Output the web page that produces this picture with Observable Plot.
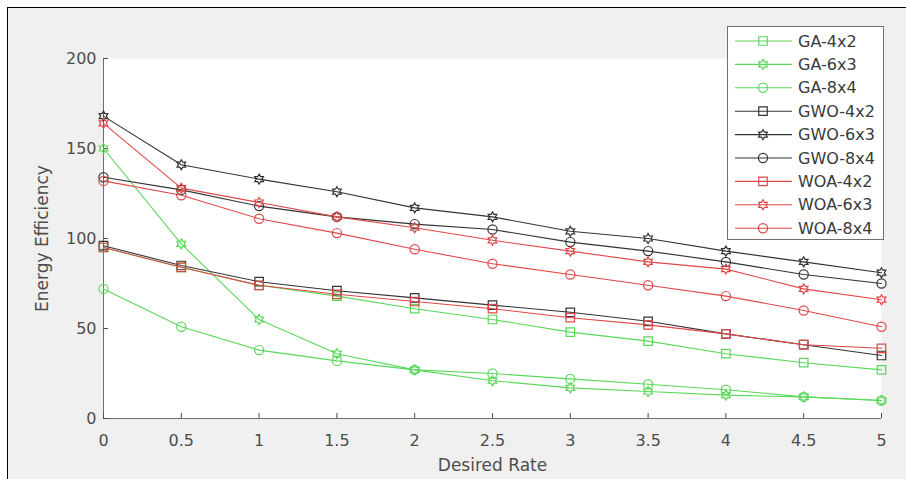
<!DOCTYPE html>
<html><head><meta charset="utf-8">
<script src="https://cdn.jsdelivr.net/npm/d3@7"></script>
<script src="https://cdn.jsdelivr.net/npm/@observablehq/plot@0.6"></script>
<style>
html,body{margin:0;padding:0;background:#fff;}
#fig{position:relative;width:906px;height:479px;overflow:hidden;background:#fff;}
#bg{position:absolute;left:7px;top:7px;right:0;bottom:0;background:#f0f0f0;border-left:1px solid #000;border-top:1px solid #000;}
#chart{position:absolute;left:0;top:0;}
</style></head><body>
<div id="fig"><div id="bg"></div><div id="chart"></div></div>
<script>
// ---- data ----
const rates = [0, 0.5, 1, 1.5, 2, 2.5, 3, 3.5, 4, 4.5, 5];
const ga4x2  = [95, 84, 74, 68, 61, 55, 48, 43, 36, 31, 27];
const ga6x3  = [150, 97, 55, 36, 27, 21, 17, 15, 13, 12, 10];
const ga8x4  = [72, 51, 38, 32, 27, 25, 22, 19, 16, 12, 10];
const gwo4x2 = [96, 85, 76, 71, 67, 63, 59, 54, 47, 41, 35];
const gwo6x3 = [168, 141, 133, 126, 117, 112, 104, 100, 93, 87, 81];
const gwo8x4 = [134, 127, 118, 112, 108, 105, 98, 93, 87, 80, 75];
const woa4x2 = [95, 84, 74, 69, 65, 61, 56, 52, 47, 41, 39];
const woa6x3 = [164, 128, 120, 112, 106, 99, 93, 87, 83, 72, 66];
const woa8x4 = [132, 124, 111, 103, 94, 86, 80, 74, 68, 60, 51];
const seriesNames = ["GA-4x2","GA-6x3","GA-8x4","GWO-4x2","GWO-6x3","GWO-8x4","WOA-4x2","WOA-6x3","WOA-8x4"];
const xTicks = [0, 0.5, 1, 1.5, 2, 2.5, 3, 3.5, 4, 4.5, 5];
const yTicks = [0, 50, 100, 150, 200];
const xLabel = "Desired Rate";
const yLabel = "Energy Efficiency";

// ---- styles ----
const GREEN = "#5ad85a", BLACK = "#333333", RED = "#e04848";
const hexagram = {
  draw(ctx, size) {
    const R = Math.sqrt(size / Math.PI), r = R / Math.sqrt(3);
    for (let i = 0; i < 12; i++) {
      const a = -Math.PI / 2 + i * Math.PI / 6;
      const rr = i % 2 ? r : R;
      const px = rr * Math.cos(a), py = rr * Math.sin(a);
      if (i === 0) ctx.moveTo(px, py); else ctx.lineTo(px, py);
    }
    ctx.closePath();
  }
};
const valuesList = [ga4x2, ga6x3, ga8x4, gwo4x2, gwo6x3, gwo8x4, woa4x2, woa6x3, woa8x4];
const colors = [GREEN, GREEN, GREEN, BLACK, BLACK, BLACK, RED, RED, RED];
const symbols = ["square", hexagram, "circle", "square", hexagram, "circle", "square", hexagram, "circle"];
const radii = [4.8, 5, 4.6, 4.8, 5, 4.6, 4.8, 5, 4.6];

const series = seriesNames.map((name, i) => ({
  name, color: colors[i], symbol: symbols[i], r: radii[i],
  data: rates.map((x, j) => ({x, y: valuesList[i][j]}))
}));

const AXIS = "#6e6e6e", TEXT = "#4d4d4d";
const marks = [
  Plot.frame({fill: "white", stroke: "none"}),
  Plot.ruleY([0], {stroke: AXIS}),
  Plot.ruleX([0], {stroke: AXIS}),
  Plot.axisX(xTicks, {tickSize: -5, tickPadding: 21, color: TEXT, label: null, fontSize: 16, tickFormat: d => String(d)}),
  Plot.axisY(yTicks, {tickSize: -5, tickPadding: 12, color: TEXT, label: null, fontSize: 16, tickFormat: d => String(d)}),
  Plot.text([xLabel], {text: d => d, frameAnchor: "bottom", dy: 47, lineAnchor: "middle", textAnchor: "middle", fill: TEXT, fontSize: 17}),
  Plot.text([yLabel], {text: d => d, frameAnchor: "left", dx: -61, rotate: -90, textAnchor: "middle", lineAnchor: "middle", fill: TEXT, fontSize: 17})
];
for (const s of series) {
  marks.push(Plot.line(s.data, {x: "x", y: "y", stroke: s.color, strokeWidth: 1.1}));
  marks.push(Plot.dot(s.data, {x: "x", y: "y", stroke: s.color, symbol: s.symbol, r: s.r, strokeWidth: 1.2}));
}

const plot = Plot.plot({
  width: 906, height: 479,
  marginLeft: 103, marginRight: 25, marginTop: 58, marginBottom: 61,
  style: {background: "transparent", fontFamily: "DejaVu Sans", fontSize: "16px", color: TEXT, overflow: "visible"},
  x: {domain: [0, 5]},
  y: {domain: [0, 200]},
  marks
});
document.getElementById("chart").appendChild(plot);

// ---- legend ----
const svg = d3.select(plot);
const lg = svg.append("g").attr("text-anchor", "start");
lg.append("rect").attr("x", 727.5).attr("y", 26.5).attr("width", 156).attr("height", 213)
  .attr("fill", "white").attr("stroke", "#707070");
series.forEach((s, i) => {
  const y = 41 + i * 23.4;
  lg.append("line").attr("x1", 735).attr("x2", 792).attr("y1", y).attr("y2", y)
    .attr("stroke", s.color).attr("stroke-width", 1.1);
  const type = s.symbol === "square" ? d3.symbolSquare : s.symbol === "circle" ? d3.symbolCircle : s.symbol;
  lg.append("path").attr("d", d3.symbol(type, s.r * s.r * Math.PI)())
    .attr("transform", `translate(763,${y})`).attr("fill", "none").attr("stroke", s.color).attr("stroke-width", 1.2);
  lg.append("text").attr("x", 798).attr("y", y).attr("dy", "0.35em").attr("text-anchor", "start")
    .attr("fill", "#3a3a3a").attr("font-size", 16).attr("font-family", "DejaVu Sans").text(s.name);
});
</script>
</body></html>
